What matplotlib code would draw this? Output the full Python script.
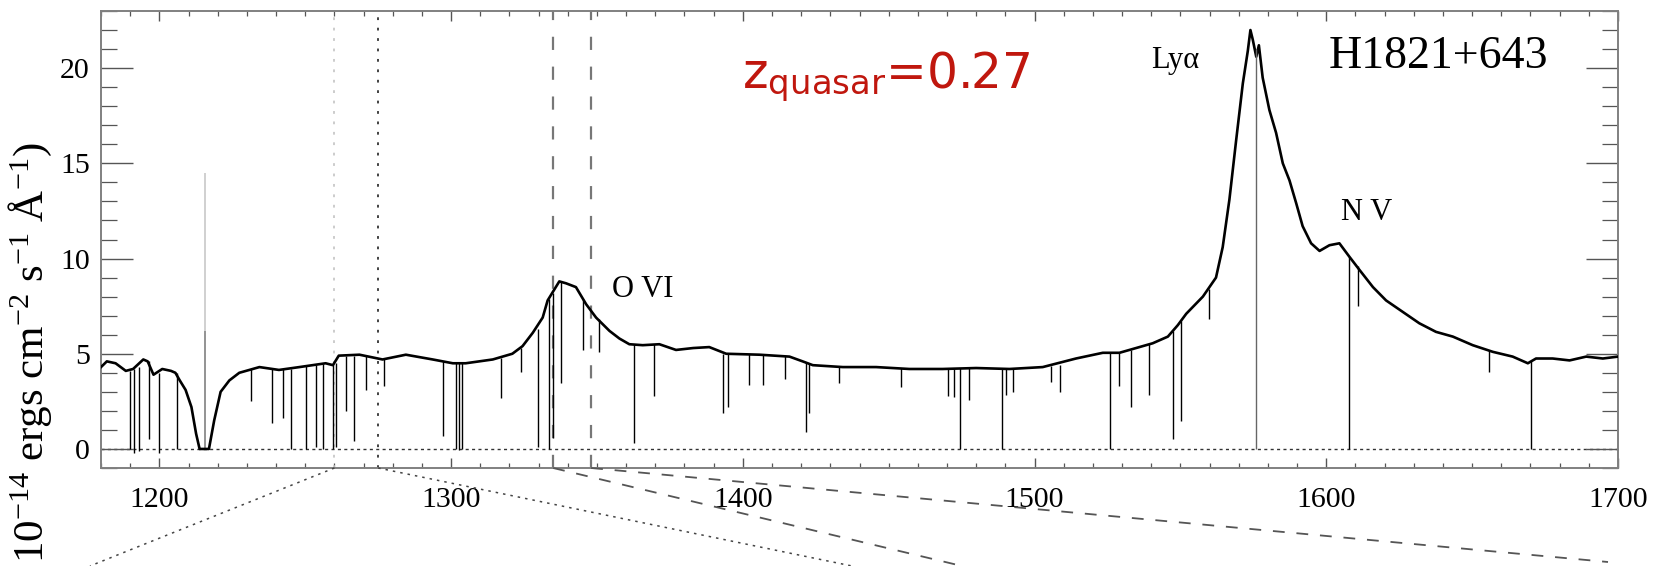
import matplotlib
matplotlib.use("Agg")
import matplotlib.pyplot as plt
from matplotlib.lines import Line2D
from matplotlib.ticker import MultipleLocator

# continuum of the spectrum (wavelength in A, flux in 1e-14 erg/cm2/s/A)
cont_wave = [1180, 1182, 1185, 1188.5, 1191, 1194.5, 1196, 1198, 1201, 1204,
             1205.5, 1207, 1209, 1211, 1212.6, 1213.8, 1217.0, 1218.8, 1221, 1224,
             1227.4, 1234.3, 1241, 1248, 1257, 1259.5, 1261.5, 1268.6, 1276.5, 1284.5,
             1293.7, 1300.6, 1305, 1314.3, 1321, 1324.5, 1328, 1331.4, 1333.1, 1335.5,
             1337.1, 1339.4, 1342.8, 1346.3, 1349.7, 1354.3, 1357.7, 1361.1, 1365.7, 1371.4,
             1377.1, 1383, 1388.5, 1394.3, 1405.7, 1416, 1420.5, 1424, 1434.3, 1445.7,
             1457.1, 1468.5, 1480, 1491.4, 1502.8, 1514.2, 1523.4, 1529.1, 1534.8, 1540.5,
             1545.7, 1549.1, 1552, 1557.7, 1562.2, 1564.5, 1566.8, 1569.1, 1571.4, 1573.1,
             1574, 1574.8, 1576, 1576.9, 1578.2, 1580.5, 1582.8, 1585.1, 1587.4, 1589.7,
             1591.9, 1594.8, 1597.7, 1601.1, 1604.5, 1607.9, 1611.4, 1616, 1620.5, 1626.2,
             1631.9, 1637.6, 1643.4, 1650.2, 1657.1, 1663.9, 1669.1, 1671.9, 1677.6, 1683.4,
             1689.1, 1694.8, 1700]
cont_flux = [4.3, 4.6, 4.5, 4.1, 4.2, 4.7, 4.6, 3.9, 4.2, 4.1,
             4.0, 3.6, 3.1, 2.2, 0.8, 0.0, 0.0, 1.5, 3.0, 3.6,
             4.0, 4.3, 4.15, 4.3, 4.5, 4.4, 4.9, 4.95, 4.7, 4.95,
             4.7, 4.5, 4.5, 4.7, 5.0, 5.4, 6.1, 6.9, 7.8, 8.4,
             8.8, 8.7, 8.5, 7.6, 6.9, 6.2, 5.8, 5.5, 5.45, 5.5,
             5.2, 5.3, 5.35, 5.0, 4.95, 4.85, 4.6, 4.4, 4.3, 4.3,
             4.2, 4.2, 4.25, 4.2, 4.3, 4.75, 5.05, 5.05, 5.3, 5.55,
             5.9, 6.5, 7.1, 8.0, 9.0, 10.6, 13.1, 16.2, 19.2, 20.9,
             22.0, 21.5, 20.6, 21.2, 19.5, 17.8, 16.6, 15.0, 14.1, 12.9,
             11.7, 10.8, 10.4, 10.7, 10.8, 10.1, 9.4, 8.5, 7.8, 7.2,
             6.6, 6.15, 5.9, 5.45, 5.1, 4.85, 4.5, 4.75, 4.75, 4.65,
             4.85, 4.75, 4.85]

# narrow absorption lines: wavelength, flux at top, flux at bottom
abs_wave = [1189.9, 1191.4, 1192.9, 1196.6, 1199.8, 1206.0, 1231.4, 1238.6, 1242.3, 1245.1,
            1250.3, 1253.7, 1256.2, 1259.4, 1260.6, 1264.0, 1266.8, 1270.8, 1277.1, 1297.1,
            1301.7, 1302.8, 1303.9, 1317.1, 1324.0, 1329.7, 1333.7, 1334.8, 1337.7, 1345.1,
            1350.8, 1362.6, 1369.7, 1393.1, 1394.8, 1402.0, 1406.8, 1414.3, 1421.7, 1422.6,
            1433.1, 1454.3, 1470.2, 1472.5, 1474.5, 1477.7, 1488.8, 1490.3, 1492.5, 1505.7,
            1508.8, 1525.7, 1529.1, 1533.1, 1539.4, 1547.4, 1550.2, 1559.9, 1607.7,
            1610.8, 1655.9, 1670.2]
abs_top = [4.1, 4.2, 4.3, 4.6, 4.0, 4.0, 4.2, 4.2, 4.2, 4.2,
           4.35, 4.4, 4.45, 4.4, 4.5, 4.9, 4.9, 4.9, 4.7, 4.6,
           4.5, 4.5, 4.5, 4.8, 5.3, 6.3, 7.9, 8.2, 8.8, 7.9,
           6.8, 5.5, 5.5, 5.0, 5.0, 5.0, 4.95, 4.9, 4.55, 4.5,
           4.3, 4.25, 4.2, 4.2, 4.25, 4.25, 4.2, 4.2, 4.2, 4.35,
           4.4, 5.05, 5.05, 5.2, 5.5, 6.2, 6.7, 8.4, 10.1,
           9.6, 5.2, 4.6]
abs_bottom = [0.0, -0.2, -0.1, 0.5, -0.2, 0.0, 2.5, 1.35, 1.6, 0.0,
              0.0, 0.1, 0.0, 0.0, 0.1, 2.0, 0.4, 3.1, 3.3, 0.7,
              0.0, -0.05, 0.0, 2.65, 4.05, 0.1, 0.0, 0.55, 3.45, 5.2,
              5.1, 0.3, 2.8, 1.9, 2.2, 3.35, 3.35, 3.7, 0.9, 1.9,
              3.45, 3.25, 2.8, 2.75, 0.0, 2.55, 0.0, 2.85, 3.0, 3.5,
              3.0, 0.0, 3.3, 2.2, 2.85, 0.5, 1.45, 6.8, 0.0,
              7.5, 4.05, 0.0]

# the deep absorption on top of Lya, drawn lighter
lya_abs_wave = 1575.9
lya_abs_top = 21.0
lya_abs_bottom = 0.0

# geocoronal Lya emission spike
geo_wave = 1215.7
geo_mid = 6.2
geo_top = 14.5

# vertical marker lines
mark_wave = [1260, 1275, 1335, 1348]

# line labels
line_names = ["O VI", "Ly\u03b1", "N V"]
line_x = [1355.3, 1540.1, 1605.2]
line_y = [7.97, 20.0, 12.0]

plt.rcParams['font.family'] = ['Liberation Serif', 'DejaVu Serif']
plt.rcParams['mathtext.fontset'] = 'custom'
plt.rcParams['mathtext.rm'] = 'Liberation Serif'
plt.rcParams['mathtext.it'] = 'Liberation Serif:italic'
plt.rcParams['mathtext.bf'] = 'Liberation Serif:bold'
plt.rcParams['mathtext.sf'] = 'DejaVu Sans'
plt.rcParams['lines.scale_dashes'] = False

W, H = 1668, 566
fig = plt.figure(figsize=(W / 100, H / 100), dpi=100)
ax = fig.add_axes([101 / W, 1 - 468 / H, (1618 - 101) / W, (468 - 11) / H])

ax.set_xlim(1180, 1700)
ax.set_ylim(-1, 23)

# spectrum
ax.plot(cont_wave, cont_flux, color='black', lw=1.9, zorder=3)
ax.vlines(abs_wave, abs_bottom, abs_top, color='black', lw=1.0, zorder=3)
ax.vlines(lya_abs_wave, lya_abs_bottom, lya_abs_top, color='#666666', lw=1.0, zorder=3)
ax.vlines(geo_wave, 0, geo_mid, color='#808080', lw=1.2, zorder=2)
ax.vlines(geo_wave, geo_mid, geo_top, color='#c8c8c8', lw=1.2, zorder=2)

# zero level
ax.axhline(0, color='#333333', lw=1.0, ls=(0, (2.2, 2.4)), zorder=1)

# marker lines
mark_style = [
    dict(color='#c8c8c8', lw=1.3, ls=(0, (2.0, 5.5))),
    dict(color='#333333', lw=1.3, ls=(0, (2.0, 5.5))),
    dict(color='#777777', lw=1.6, ls=(0, (9.5, 12))),
    dict(color='#777777', lw=1.6, ls=(0, (9.5, 12))),
]
for w, st in zip(mark_wave, mark_style):
    ax.axvline(w, zorder=2, **st)

# connecting lines toward the (cut off) lower panel
end_px = [(90, 566), (852, 566), (962, 566), (1608, 562)]
conn_style = [
    dict(color='#444444', lw=1.1, ls=(0, (1.8, 3.6))),
    dict(color='#444444', lw=1.1, ls=(0, (1.8, 3.6))),
    dict(color='#555555', lw=1.3, ls=(0, (8.5, 8.5))),
    dict(color='#555555', lw=1.3, ls=(0, (8.5, 8.5))),
]
inv = fig.transFigure.inverted()
for w, (ex, ey), st in zip(mark_wave, end_px, conn_style):
    sx, sy = inv.transform(ax.transData.transform((w, -1)))
    fig.add_artist(Line2D([sx, ex / W], [sy, 1 - ey / H], **st))

# labels
for name, x, y in zip(line_names, line_x, line_y):
    ax.text(x, y, name, fontsize=22, ha='left', va='baseline')
ax.text(1638.5, 20.0, "H1821+643", fontsize=33, ha='center', va='baseline')
ax.text(1399.8, 18.94, r"z$_{\mathsf{quasar}}$=0.27", fontsize=35,
        family='DejaVu Sans', color='#c0170e', ha='left', va='baseline')

# axes styling
for s in ax.spines.values():
    s.set_color('#808080')
    s.set_linewidth(1.4)
ax.set_xticks([1200, 1300, 1400, 1500, 1600, 1700])
ax.set_yticks([0, 5, 10, 15, 20])
ax.xaxis.set_minor_locator(MultipleLocator(10))
ax.yaxis.set_minor_locator(MultipleLocator(1))
ax.tick_params(axis='x', which='major', direction='in', length=7.5, width=1.0,
               color='#555555', top=True, labelsize=21.5, pad=14)
ax.tick_params(axis='x', which='minor', direction='in', length=3.8, width=0.9,
               color='#555555', top=True)
ax.tick_params(axis='y', which='major', direction='in', length=23, width=1.0,
               color='#555555', right=True, labelsize=21.5, pad=8)
ax.tick_params(axis='y', which='minor', direction='in', length=11.5, width=0.9,
               color='#555555', right=True)

# y label: only its upper part lies inside the figure in the reference
fig.text(30 / W, 1 - 142 / H,
         r"$10^{-14}$ ergs cm$^{-2}$ s$^{-1}$ $\mathrm{\AA}^{-1}$)",
         rotation=90, fontsize=31, ha='center', va='top')

fig.savefig("out.png", dpi=100)
